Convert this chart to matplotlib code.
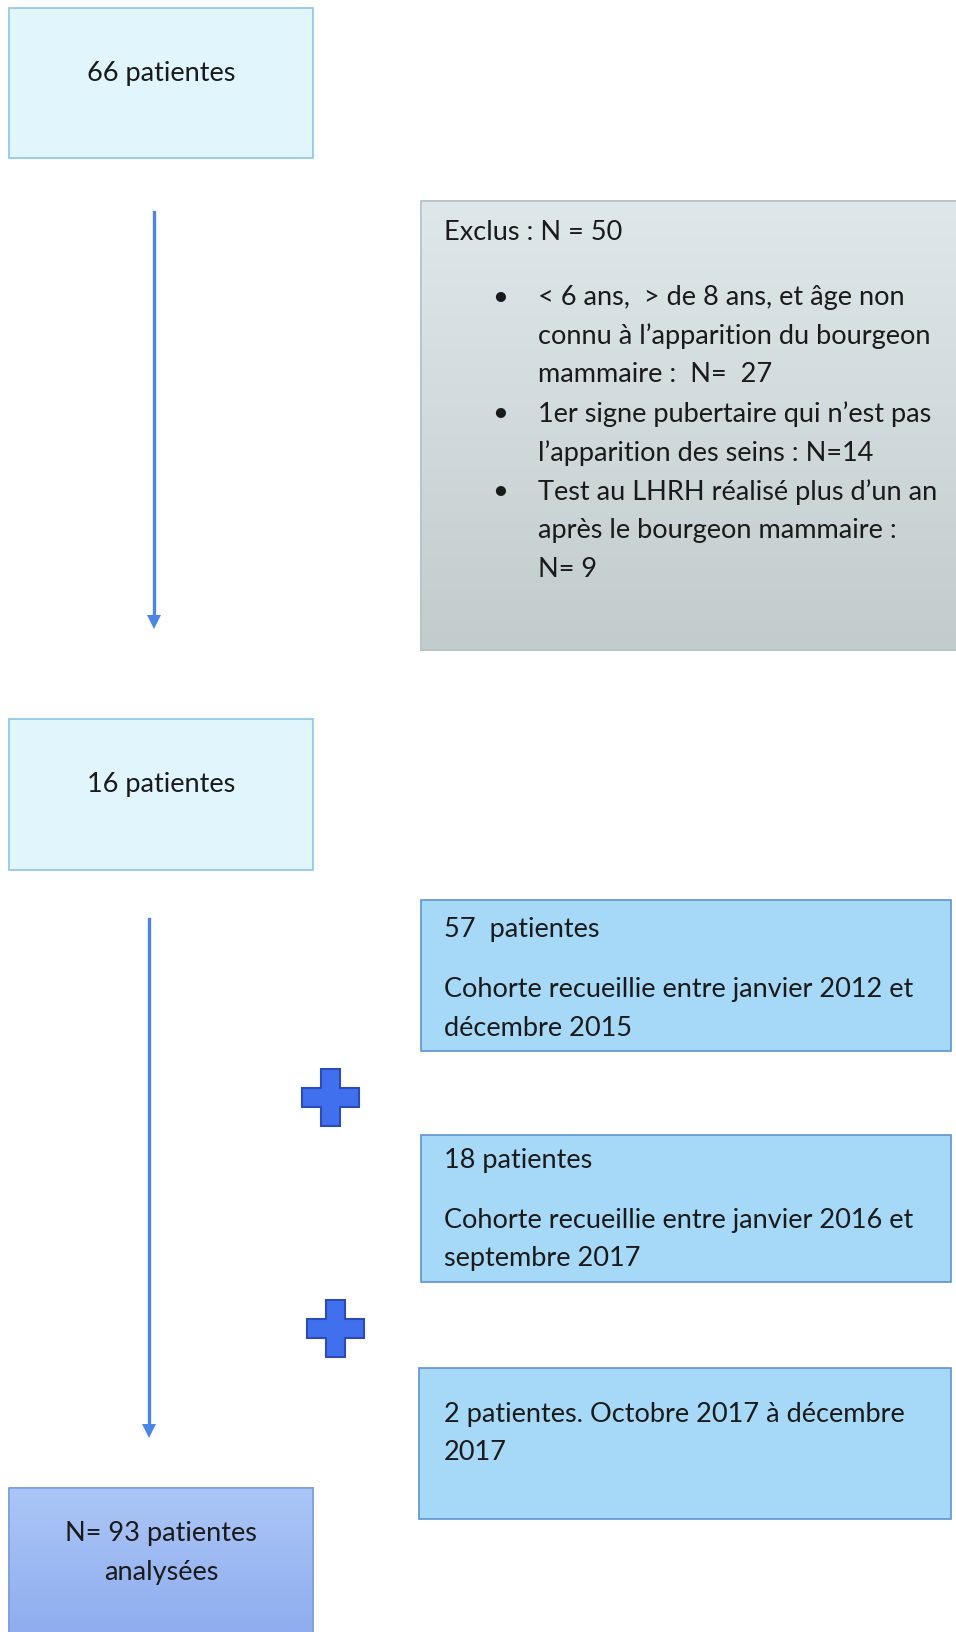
import matplotlib.pyplot as plt
import matplotlib.colors as mc
import numpy as np
from matplotlib.patches import Rectangle, Polygon

plt.rcParams['font.family'] = ['Lato', 'DejaVu Sans']

# box texts
box_top = "66 patientes"
box_mid = "16 patientes"
box_final = ["N= 93 patientes", "analysées"]
excl_title = "Exclus : N = 50"
excl_bullets = [
    ["< 6 ans,  > de 8 ans, et âge non", "connu à l\u2019apparition du bourgeon", "mammaire :  N=  27"],
    ["1er signe pubertaire qui n\u2019est pas", "l\u2019apparition des seins : N=14"],
    ["Test au LHRH réalisé plus d\u2019un an", "après le bourgeon mammaire :", "N= 9"],
]
cohort_57_head = "57  patientes"
cohort_57_body = ["Cohorte recueillie entre janvier 2012 et", "décembre 2015"]
cohort_18_head = "18 patientes"
cohort_18_body = ["Cohorte recueillie entre janvier 2016 et", "septembre 2017"]
cohort_2 = ["2 patientes. Octobre 2017 à décembre", "2017"]

W, H = 956, 1633
fig = plt.figure(figsize=(W / 100, H / 100), dpi=100)
ax = fig.add_axes([0, 0, 1, 1])
ax.set_xlim(0, W)
ax.set_ylim(H, 0)
ax.axis('off')

FS = 19.5
TXT = '#1a1a1a'


def box(x0, y0, x1, y1, fc, ec, fc2=None):
    r = Rectangle((x0, y0), x1 - x0, y1 - y0, facecolor=fc, edgecolor=ec, lw=1.2, zorder=2)
    ax.add_patch(r)
    if fc2 is not None:
        c1 = np.array(mc.to_rgb(fc))
        c2 = np.array(mc.to_rgb(fc2))
        t = np.linspace(0, 1, 100)[:, None]
        grad = (c1 * (1 - t) + c2 * t)[:, None, :]
        im = ax.imshow(grad, extent=(x0, x1, y1, y0), aspect='auto', zorder=2.1)
        im.set_clip_path(r)
        ax.add_patch(Rectangle((x0, y0), x1 - x0, y1 - y0, facecolor='none',
                               edgecolor=ec, lw=1.2, zorder=2.2))


def arrow(x, y0, y1):
    ax.plot([x, x], [y0, y1 - 12], color='#4a86e8', lw=2.4, zorder=3)
    ax.add_patch(Polygon([[x - 7, y1 - 14], [x + 7, y1 - 14], [x, y1]], closed=True,
                         facecolor='#4a86e8', edgecolor='none', zorder=3))


def plus(cx, cy, size=57, arm=19):
    h, a = size / 2, arm / 2
    pts = [[cx - a, cy - h], [cx + a, cy - h], [cx + a, cy - a], [cx + h, cy - a],
           [cx + h, cy + a], [cx + a, cy + a], [cx + a, cy + h], [cx - a, cy + h],
           [cx - a, cy + a], [cx - h, cy + a], [cx - h, cy - a], [cx - a, cy - a]]
    ax.add_patch(Polygon(pts, closed=True, facecolor='#4070ee', edgecolor='#2b4cb8',
                         lw=1.5, zorder=3))


def lines(x, y, txt, dy, **kw):
    for i, t in enumerate(txt):
        ax.text(x, y + i * dy, t, fontsize=FS, color=TXT, va='center', zorder=4, **kw)


# left column
box(9, 9, 313, 159, '#e1f5fd', '#8cc4e6')
lines(161, 74, [box_top], 0, ha='center')
arrow(154, 213, 630)

box(9, 720, 313, 871, '#e1f5fd', '#8cc4e6')
lines(161, 785, [box_mid], 0, ha='center')
arrow(149, 920, 1439)

box(9, 1489, 313, 1640, '#abc6f6', '#7d9fe0', fc2='#8eacef')
lines(161, 1534, box_final, 39, ha='center')

# exclusion box
box(421, 202, 958, 651, '#dee7ea', '#b9c2c4', fc2='#c3cccd')
lines(444, 232, [excl_title], 0)
yy = 297
for b in excl_bullets:
    ax.text(500, yy, '\u2022', fontsize=FS, va='center', ha='center', color=TXT, zorder=4)
    lines(538, yy, b, 39)
    yy += 39 * len(b)

# cohort boxes
box(421, 901, 951, 1052, '#a6d9f7', '#5f93d3')
lines(444, 930, [cohort_57_head], 0)
lines(444, 990, cohort_57_body, 39)

box(421, 1136, 951, 1283, '#a6d9f7', '#5f93d3')
lines(444, 1161, [cohort_18_head], 0)
lines(444, 1221, cohort_18_body, 38)

box(419, 1369, 951, 1520, '#a6d9f7', '#5f93d3')
lines(444, 1415, cohort_2, 38)

plus(331, 1098)
plus(336, 1329)

fig.savefig('out.png', dpi=100, facecolor='white')
